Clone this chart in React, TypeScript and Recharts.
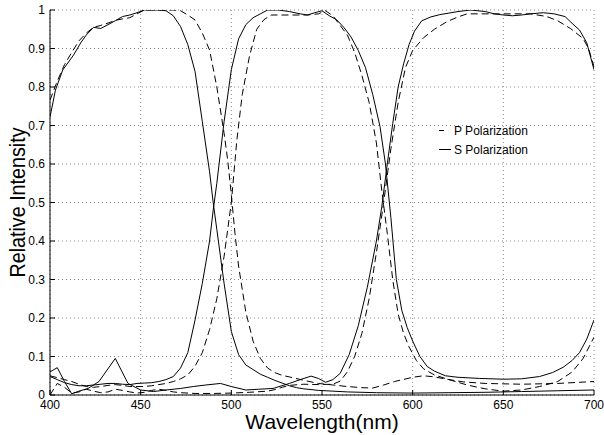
import React from 'react';
import { LineChart, Line, XAxis, YAxis, CartesianGrid, Legend } from 'recharts';

const FONT = 'Arial, "Liberation Sans", Helvetica, sans-serif';

const xTicks = [400, 450, 500, 550, 600, 650, 700];
const yTicks = [0, 0.1, 0.2, 0.3, 0.4, 0.5, 0.6, 0.7, 0.8, 0.9, 1];
const legendLabels = ['P Polarization', 'S Polarization'];

// Blue band, S polarization (solid)
const blueSWl = [400, 403, 407, 413, 417, 420, 424, 428, 432, 436, 440, 444, 448, 452, 456, 460, 464, 468, 472, 476, 480, 484, 488, 490, 492, 496, 500, 504, 508, 512, 516, 520, 524, 528, 532, 536, 540, 548, 556, 564, 580, 600, 620, 640, 660, 680, 700];
const blueSVal = [0.722, 0.792, 0.844, 0.883, 0.915, 0.935, 0.955, 0.952, 0.962, 0.972, 0.983, 0.987, 0.993, 1.0, 1.0, 1.0, 0.998, 0.985, 0.957, 0.91, 0.84, 0.71, 0.58, 0.5, 0.43, 0.29, 0.165, 0.105, 0.078, 0.066, 0.054, 0.046, 0.038, 0.031, 0.024, 0.019, 0.016, 0.012, 0.01, 0.008, 0.006, 0.005, 0.006, 0.007, 0.009, 0.011, 0.013];

// Blue band, P polarization (dashed)
const bluePWl = [400, 404, 408, 412, 416, 420, 424, 428, 432, 436, 440, 444, 448, 452, 456, 460, 464, 468, 472, 476, 480, 484, 488, 492, 496, 498, 500, 502, 504, 508, 512, 516, 520, 524, 528, 532, 540, 548, 556, 564, 572, 578, 584, 590, 600, 606, 612, 620, 628, 640, 660, 680, 700];
const bluePVal = [0.766, 0.815, 0.858, 0.89, 0.92, 0.94, 0.955, 0.96, 0.966, 0.973, 0.977, 0.98, 0.99, 1.0, 1.0, 1.0, 1.0, 1.0, 0.998, 0.987, 0.974, 0.94, 0.896, 0.8, 0.68, 0.61, 0.52, 0.42, 0.335, 0.215, 0.14, 0.095, 0.07, 0.058, 0.051, 0.047, 0.038, 0.03, 0.026, 0.022, 0.019, 0.018, 0.026, 0.035, 0.046, 0.05, 0.047, 0.04, 0.034, 0.03, 0.028, 0.03, 0.035];

// Green band, S polarization (solid)
const greenSWl = [400, 404, 408, 412, 416, 420, 424, 428, 432, 436, 440, 444, 448, 452, 456, 460, 464, 468, 472, 476, 480, 484, 488, 490, 492, 496, 500, 504, 508, 512, 516, 520, 526, 532, 538, 542, 546, 550, 554, 558, 562, 566, 570, 574, 578, 582, 585, 588, 591, 594, 597, 600, 604, 608, 612, 618, 625, 637, 650, 660, 670, 677, 683, 688, 692, 696, 700];
const greenSVal = [0.048, 0.04, 0.032, 0.027, 0.024, 0.024, 0.026, 0.028, 0.03, 0.03, 0.028, 0.027, 0.03, 0.031, 0.032, 0.035, 0.04, 0.048, 0.07, 0.11, 0.195, 0.29, 0.4, 0.48, 0.55, 0.71, 0.845, 0.925, 0.962, 0.98, 0.99, 1.0, 1.0, 0.996, 0.99, 0.987, 0.993, 0.998, 0.985, 0.975, 0.955, 0.93, 0.895, 0.85, 0.78, 0.697, 0.6, 0.46, 0.3, 0.22, 0.175, 0.14, 0.1, 0.074, 0.062, 0.05, 0.046, 0.043, 0.041, 0.042, 0.048, 0.058, 0.072, 0.09, 0.11, 0.145, 0.195];

// Green band, P polarization (dashed)
const greenPWl = [400, 404, 408, 412, 416, 420, 424, 428, 432, 436, 440, 444, 448, 452, 456, 460, 464, 468, 472, 476, 480, 484, 488, 492, 496, 500, 503, 506, 510, 514, 518, 522, 532, 542, 548, 552, 556, 560, 564, 568, 572, 576, 580, 583, 586, 589, 592, 595, 598, 602, 606, 612, 620, 630, 640, 650, 660, 670, 680, 688, 694, 700];
const greenPVal = [0.05, 0.045, 0.04, 0.035, 0.028, 0.022, 0.02, 0.022, 0.025, 0.027, 0.025, 0.022, 0.022, 0.022, 0.024, 0.027, 0.03, 0.035, 0.042, 0.052, 0.075, 0.11, 0.17, 0.25, 0.36, 0.5, 0.66, 0.78, 0.88, 0.95, 0.975, 0.987, 0.987, 0.987, 0.99, 0.998, 0.985, 0.96, 0.935, 0.89, 0.83, 0.76, 0.655, 0.53, 0.42, 0.3, 0.21, 0.16, 0.125, 0.09, 0.068, 0.052, 0.04, 0.026, 0.016, 0.01, 0.013, 0.022, 0.035, 0.06, 0.095, 0.15];

// Red band, S polarization (solid)
const redSWl = [400, 404, 408, 412, 416, 421, 427, 436, 443, 450, 457, 464, 472, 479, 486, 494, 500, 508, 515, 523, 532, 538, 544, 548, 552, 556, 560, 565, 570, 575, 580, 583, 586, 589, 592, 595, 598, 601, 605, 610, 615, 620, 625, 632, 640, 645, 650, 655, 660, 665, 672, 678, 684, 688, 692, 696, 700];
const redSVal = [0.06, 0.071, 0.035, 0.003, 0.01, 0.017, 0.035, 0.095, 0.03, 0.013, 0.009, 0.013, 0.017, 0.022, 0.026, 0.03, 0.022, 0.013, 0.015, 0.017, 0.03, 0.04, 0.049, 0.043, 0.033, 0.04, 0.056, 0.105, 0.18, 0.28, 0.4, 0.49, 0.6, 0.705, 0.8, 0.86, 0.91, 0.945, 0.972, 0.982, 0.988, 0.992, 0.996, 1.0, 0.996, 0.99, 0.987, 0.985, 0.987, 0.99, 0.993, 0.99, 0.983, 0.965, 0.948, 0.915, 0.845];

// Red band, P polarization (dashed)
const redPWl = [400, 404, 408, 412, 416, 420, 424, 428, 432, 436, 440, 444, 448, 452, 456, 460, 464, 468, 472, 480, 490, 500, 510, 520, 524, 528, 532, 540, 548, 556, 560, 564, 568, 572, 576, 580, 584, 588, 592, 596, 600, 606, 612, 619, 625, 630, 640, 652, 665, 674, 680, 687, 694, 697, 700];
const redPVal = [0.0, 0.03, 0.02, 0.005, 0.008, 0.015, 0.01, 0.006, 0.008, 0.015, 0.012, 0.008, 0.005, 0.007, 0.012, 0.015, 0.012, 0.008, 0.006, 0.004, 0.004, 0.005, 0.007, 0.01, 0.014, 0.02, 0.025, 0.028, 0.027, 0.028, 0.036, 0.06, 0.1, 0.16, 0.25, 0.37, 0.5, 0.64, 0.76, 0.85, 0.895, 0.928, 0.95, 0.97, 0.982, 0.99, 0.99, 0.99, 0.99, 0.983, 0.972, 0.952, 0.926, 0.9, 0.853];

const toPts = (wl: number[], v: number[]) => wl.map((x, i) => ({ x, y: v[i] }));

const series = [
  { id: 'blueS', data: toPts(blueSWl, blueSVal), dashed: false },
  { id: 'blueP', data: toPts(bluePWl, bluePVal), dashed: true },
  { id: 'greenS', data: toPts(greenSWl, greenSVal), dashed: false },
  { id: 'greenP', data: toPts(greenPWl, greenPVal), dashed: true },
  { id: 'redS', data: toPts(redSWl, redSVal), dashed: false },
  { id: 'redP', data: toPts(redPWl, redPVal), dashed: true },
];

const noTick = () => <g />;

const fmtY = (v: number) => String(Number(v.toFixed(1)));

const renderXLabel = (props: any) => {
  const vb = props.viewBox || { x: 50, y: 395, width: 544, height: 40 };
  return (
    <text x={vb.x + vb.width / 2} y={vb.y + 34} textAnchor="middle" fontSize={21} fontFamily={FONT} fill="#000">
      Wavelength(nm)
    </text>
  );
};

const renderYLabel = (props: any) => {
  const vb = props.viewBox || { x: 0, y: 10, width: 50, height: 385 };
  const cx = vb.x + 25;
  const cy = vb.y + vb.height / 2;
  return (
    <text
      x={cx}
      y={cy}
      transform={`rotate(-90 ${cx} ${cy})`}
      textAnchor="middle"
      fontSize={22}
      fontFamily={FONT}
      fill="#000"
      textLength={150}
      lengthAdjust="spacingAndGlyphs"
    >
      Relative Intensity
    </text>
  );
};

const renderLegend = () => (
  <div style={{ fontFamily: FONT, fontSize: 12, color: '#000' }}>
    {legendLabels.map((lab, i) => (
      <div key={lab} style={{ display: 'flex', alignItems: 'center', height: 19 }}>
        <svg width={17} height={19} style={{ display: 'block' }}>
          <line x1={2} x2={i === 0 ? 7 : 14} y1={9.5} y2={9.5} stroke="#000" strokeWidth={1} />
        </svg>
        <span style={{ whiteSpace: 'nowrap' }}>{lab}</span>
      </div>
    ))}
  </div>
);

export default function App() {
  return (
    <div style={{ position: 'absolute', left: 0, top: 0, width: 604, height: 435, background: '#fff' }}>
      <LineChart width={604} height={435} margin={{ top: 10, right: 10, bottom: 0, left: 0 }}>
        <CartesianGrid xAxisId="b" yAxisId="l" stroke="#8a8a8a" strokeDasharray="1 3" />
        <XAxis
          xAxisId="b"
          type="number"
          dataKey="x"
          domain={[400, 700]}
          allowDataOverflow
          ticks={xTicks}
          interval={0}
          height={40}
          tickSize={-5}
          tickMargin={10}
          stroke="#000"
          tick={{ fill: '#000', fontSize: 12, fontFamily: FONT }}
          label={{ content: renderXLabel }}
        />
        <XAxis
          xAxisId="t"
          orientation="top"
          type="number"
          dataKey="x"
          domain={[400, 700]}
          allowDataOverflow
          ticks={xTicks}
          interval={0}
          height={0}
          tickSize={-5}
          stroke="#000"
          tick={noTick}
        />
        <YAxis
          yAxisId="l"
          type="number"
          domain={[0, 1]}
          allowDataOverflow
          ticks={yTicks}
          interval={0}
          width={50}
          tickSize={-5}
          tickMargin={10}
          stroke="#000"
          tickFormatter={fmtY}
          tick={{ fill: '#000', fontSize: 12, fontFamily: FONT }}
          label={{ content: renderYLabel }}
        />
        <YAxis
          yAxisId="r"
          orientation="right"
          type="number"
          domain={[0, 1]}
          allowDataOverflow
          ticks={yTicks}
          interval={0}
          width={0}
          tickSize={-5}
          stroke="#000"
          tick={noTick}
        />
        {series.map((s) => (
          <Line
            key={s.id}
            xAxisId="b"
            yAxisId="l"
            data={s.data}
            dataKey="y"
            type="linear"
            stroke="#000"
            strokeWidth={1}
            strokeDasharray={s.dashed ? '7 4' : undefined}
            dot={false}
            activeDot={false}
            isAnimationActive={false}
          />
        ))}
        <Legend
          layout="vertical"
          verticalAlign="middle"
          align="center"
          wrapperStyle={{ left: 437, top: 121, width: 130 }}
          content={renderLegend}
        />
      </LineChart>
    </div>
  );
}
